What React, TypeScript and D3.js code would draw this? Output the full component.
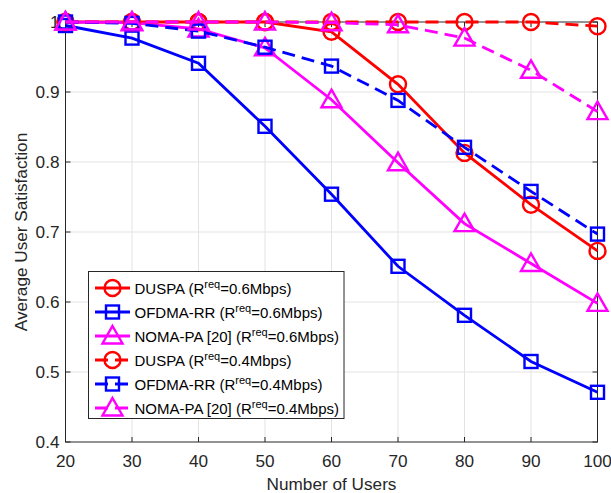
import React from "react";
import * as d3 from "d3";

const users = [20, 30, 40, 50, 60, 70, 80, 90, 100];
const duspa06 = [1, 1, 1, 1, 0.986, 0.911, 0.813, 0.739, 0.673];
const ofdma06 = [0.995, 0.977, 0.941, 0.851, 0.754, 0.651, 0.581, 0.515, 0.471];
const noma06 = [1, 0.999, 0.99, 0.963, 0.889, 0.799, 0.712, 0.655, 0.598];
const duspa04 = [1, 1, 1, 1, 1, 1, 1, 1, 0.994];
const ofdma04 = [1, 0.998, 0.987, 0.964, 0.937, 0.888, 0.821, 0.758, 0.697];
const noma04 = [1, 1, 1, 1, 0.999, 0.996, 0.977, 0.931, 0.872];

const xTicks = [20, 30, 40, 50, 60, 70, 80, 90, 100];
const yTicks = [0.4, 0.5, 0.6, 0.7, 0.8, 0.9, 1];
const yTickLabels = ["0.4", "0.5", "0.6", "0.7", "0.8", "0.9", "1"];

const seriesNames = ["DUSPA", "OFDMA-RR", "NOMA-PA [20]", "DUSPA", "OFDMA-RR", "NOMA-PA [20]"];
const seriesReq = ["0.6", "0.6", "0.6", "0.4", "0.4", "0.4"];

type Series = { values: number[]; color: string; marker: string; dashed: boolean };
const series: Series[] = [
  { values: duspa06, color: "#ff0000", marker: "circle", dashed: false },
  { values: ofdma06, color: "#0000ff", marker: "square", dashed: false },
  { values: noma06, color: "#ff00ff", marker: "triangle", dashed: false },
  { values: duspa04, color: "#ff0000", marker: "circle", dashed: true },
  { values: ofdma04, color: "#0000ff", marker: "square", dashed: true },
  { values: noma04, color: "#ff00ff", marker: "triangle", dashed: true },
];

const W = 611;
const H = 493;
const L = 65.5, R = 597.5, T = 22, B = 442;
const axisColor = "#262626";
const font = "'Liberation Sans', Arial, Helvetica, sans-serif";
const LW = 2.8;
const MW = 2.4;

function Marker({ type, x, y, color }: { type: string; x: number; y: number; color: string }) {
  if (type === "circle") {
    return <circle cx={x} cy={y} r={8} fill="none" stroke={color} strokeWidth={MW} />;
  }
  if (type === "square") {
    return <rect x={x - 6.5} y={y - 6.5} width={13} height={13} fill="none" stroke={color} strokeWidth={MW} />;
  }
  const p = `M${x},${y - 10} L${x + 10},${y + 7.5} L${x - 10},${y + 7.5} Z`;
  return <path d={p} fill="none" stroke={color} strokeWidth={MW} strokeLinejoin="miter" />;
}

export default function App() {
  const x = d3.scaleLinear().domain([20, 100]).range([L, R]);
  const y = d3.scaleLinear().domain([0.4, 1.0]).range([B, T]);
  const line = d3
    .line<number>()
    .x((_, i) => x(users[i]))
    .y((d) => y(d));

  const legX0 = 88.5, legY0 = 271.5, legX1 = 344, legY1 = 418.5;
  const legRowY = (i: number) => 288 + i * 24;

  return (
    <svg width={W} height={H} style={{ position: "absolute", left: 0, top: 0, background: "#fff" }} fontFamily={font}>
      <rect x={0} y={0} width={W} height={H} fill="#fff" />
      {/* grid */}
      {xTicks.slice(1, -1).map((t) => (
        <line key={"gx" + t} x1={x(t)} x2={x(t)} y1={T} y2={B} stroke="#e3e3e3" strokeWidth={1} />
      ))}
      {yTicks.slice(1, -1).map((t) => (
        <line key={"gy" + t} x1={L} x2={R} y1={y(t)} y2={y(t)} stroke="#e3e3e3" strokeWidth={1} />
      ))}
      {/* axes box */}
      <rect x={L} y={T} width={R - L} height={B - T} fill="none" stroke={axisColor} strokeWidth={1} />
      {/* ticks */}
      {xTicks.map((t) => (
        <g key={"tx" + t}>
          <line x1={x(t)} x2={x(t)} y1={B} y2={B - 5} stroke={axisColor} />
          <line x1={x(t)} x2={x(t)} y1={T} y2={T + 5} stroke={axisColor} />
          <text x={x(t)} y={466.5} textAnchor="middle" fontSize={17.2} fill={axisColor}>
            {t}
          </text>
        </g>
      ))}
      {yTicks.map((t, i) => (
        <g key={"ty" + t}>
          <line x1={L} x2={L + 5} y1={y(t)} y2={y(t)} stroke={axisColor} />
          <line x1={R} x2={R - 5} y1={y(t)} y2={y(t)} stroke={axisColor} />
          <text x={59.5} y={y(t) + 6} textAnchor="end" fontSize={17.2} fill={axisColor}>
            {yTickLabels[i]}
          </text>
        </g>
      ))}
      <text x={(L + R) / 2} y={490} textAnchor="middle" fontSize={17.2} fill={axisColor}>
        Number of Users
      </text>
      <text
        transform={`translate(27,${(T + B) / 2}) rotate(-90)`}
        textAnchor="middle"
        fontSize={17.2}
        fill={axisColor}
      >
        Average User Satisfaction
      </text>
      {/* series */}
      {series.map((s, si) => (
        <g key={"s" + si}>
          <path
            d={line(s.values) || ""}
            fill="none"
            stroke={s.color}
            strokeWidth={LW}
            strokeDasharray={s.dashed ? "13,7" : undefined}
          />
          {s.values.map((v, i) => (
            <Marker key={i} type={s.marker} x={x(users[i])} y={y(v)} color={s.color} />
          ))}
        </g>
      ))}
      {/* legend */}
      <rect x={legX0} y={legY0} width={legX1 - legX0} height={legY1 - legY0} fill="#fff" stroke={axisColor} strokeWidth={1} />
      {series.map((s, i) => (
        <g key={"lg" + i}>
          <line
            x1={95}
            x2={130}
            y1={legRowY(i)}
            y2={legRowY(i)}
            stroke={s.color}
            strokeWidth={LW}
            strokeDasharray={s.dashed ? "13,7" : undefined}
          />
          <Marker type={s.marker} x={112.5} y={legRowY(i)} color={s.color} />
          <text x={134.5} y={legRowY(i) + 5.5} fontSize={15} fill="#000">
            {seriesNames[i]} (R
            <tspan dy={-6} fontSize={11}>req</tspan>
            <tspan dy={6}>={seriesReq[i]}Mbps)</tspan>
          </text>
        </g>
      ))}
    </svg>
  );
}
